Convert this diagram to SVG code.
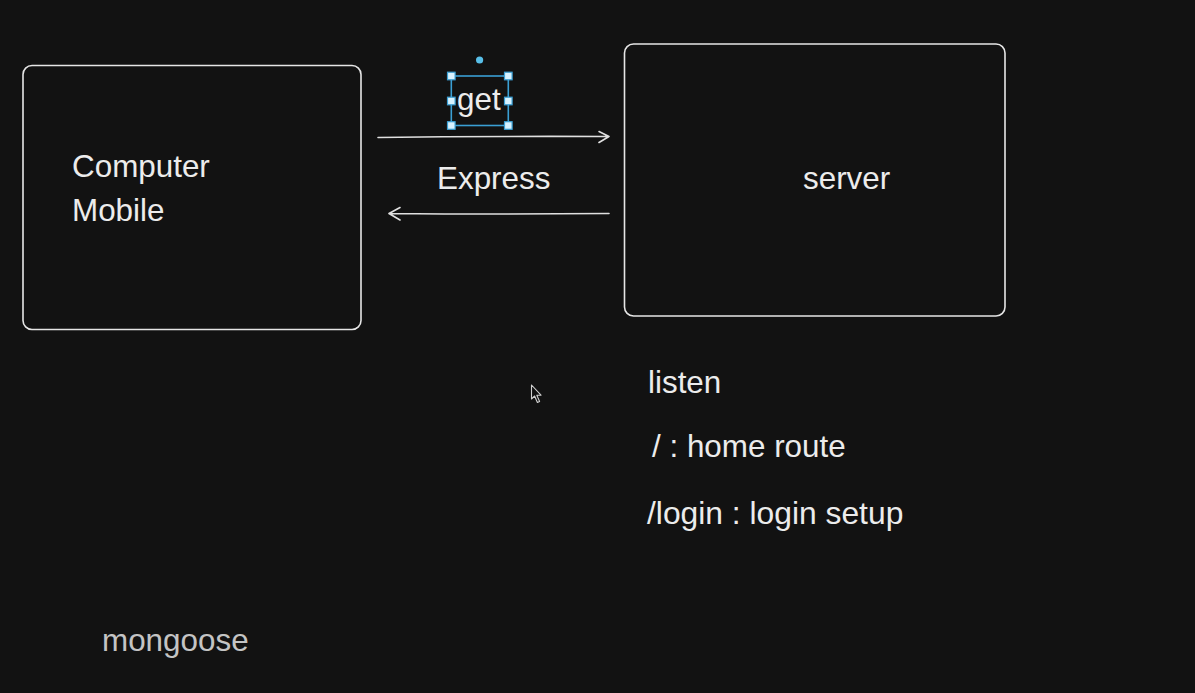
<svg xmlns="http://www.w3.org/2000/svg" width="1195" height="693" viewBox="0 0 1195 693">
<defs>
<style>
.box{fill:none;stroke:#e6e6e6;stroke-width:1.6}
.lbl{font-family:"Liberation Sans",Arial,sans-serif;font-size:31.4px;fill:#ececec}
.conn{fill:none;stroke:#e0e0e0;stroke-width:1.6;stroke-linecap:round;stroke-linejoin:round}
.sel{fill:none;stroke:#3a9fd4;stroke-width:1.6}
.hdl{fill:#d8f2ff;stroke:#3a9fd4;stroke-width:1.2}
</style>
</defs>
<rect x="0" y="0" width="1195" height="693" fill="#121212"/>
<g id="client">
<rect class="box" x="23" y="65.5" width="338" height="264" rx="9"/>
<text class="lbl" x="72" y="177">Computer</text>
<text class="lbl" x="72" y="221">Mobile</text>
</g>
<g id="server">
<rect class="box" x="624.5" y="44" width="380.5" height="272" rx="9"/>
<text class="lbl" x="803" y="189">server</text>
</g>
<g id="connectors">
<path class="conn" d="M378,137.5 Q490,136 609,136.5 M599,131.5 L609,136.5 L599,142.5"/>
<path class="conn" d="M609,213.5 Q500,214.5 389,213.5 M400,207.5 L389,213.5 L400,220"/>
</g>
<g id="get-label">
<text class="lbl" x="457" y="110">get</text>
<rect class="sel" x="451.3" y="76" width="57" height="49.5"/>
<circle cx="479.6" cy="60" r="3.6" fill="#58bfe8"/>
<rect class="hdl" x="447.5" y="72.2" width="7.6" height="7.6"/>
<rect class="hdl" x="504.5" y="72.2" width="7.6" height="7.6"/>
<rect class="hdl" x="447.5" y="121.7" width="7.6" height="7.6"/>
<rect class="hdl" x="504.5" y="121.7" width="7.6" height="7.6"/>
<rect class="hdl" x="447.5" y="97.2" width="7.6" height="7.6"/>
<rect class="hdl" x="504.5" y="97.2" width="7.6" height="7.6"/>
</g>
<g id="express-label">
<text class="lbl" x="437" y="189">Express</text>
</g>
<g id="notes">
<text class="lbl" x="648" y="393">listen</text>
<text class="lbl" x="652" y="457">/ : home route</text>
<text class="lbl" x="647" y="524" style="font-size:31.8px">/login : login setup</text>
</g>
<g id="mongoose">
<text class="lbl" x="102" y="651" style="fill:#c4c4c4">mongoose</text>
</g>
<g id="cursor">
<path d="M531.5,385 L531.5,399 L534.6,396 L537.4,402.5 L539.6,401.5 L536.8,395.2 L541,395.2 Z" fill="#111" stroke="#d0d0d0" stroke-width="1.1" stroke-linejoin="round"/>
</g>
</svg>
